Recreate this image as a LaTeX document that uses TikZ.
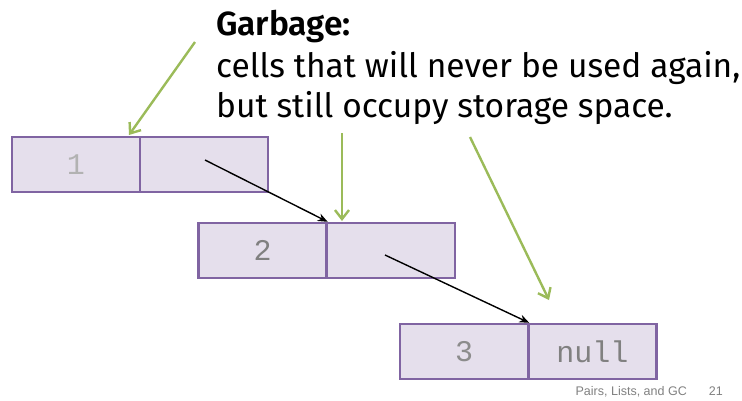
\documentclass[tikz,border=0pt]{standalone}
\usepackage{fontspec}
\setmainfont{Fira Sans}[BoldFont={Fira Sans SemiBold}]
\newfontfamily\monof{Liberation Mono}
\newfontfamily\footf{Liberation Sans}
\usetikzlibrary{arrows.meta}
\definecolor{cellfill}{HTML}{E5DFEC}
\definecolor{cellline}{HTML}{8064A2}
\definecolor{gbgreen}{HTML}{9BBB59}
\tikzset{
  half/.style={draw=cellline, fill=cellfill, line width=2.4pt, minimum width=128pt, minimum height=55pt, inner sep=0pt, font=\monof\fontsize{30}{30}\selectfont},
  ptr/.style={-{Stealth[length=10pt,width=8pt]}, line width=1.4pt, black},
  garb/.style={-{Straight Barb[length=9pt,width=14pt]}, line width=2.4pt, gbgreen},
  txtline/.style={anchor=base west, inner sep=0pt, font=\fontsize{33.5}{41}\selectfont},
  footer/.style={inner sep=0pt, text=black!50, font=\footf\fontsize{12.5}{12.5}\selectfont},
}
\begin{document}
\begin{tikzpicture}[x=1pt,y=-1pt]
\useasboundingbox (0,0) rectangle (742,400);
% cells
\node[half, text=black!30] (c1a) at (76,164.5) {1};
\node[half] (c1b) at (204,164.5) {};
\node[half, text=black!50] (c2a) at (262.5,250.5) {2};
\node[half] (c2b) at (391,250.5) {};
\node[half, text=black!45] (c3a) at (464,351.5) {3};
\node[half, text=black!50] (c3b) at (592.5,351.5) {null};
% pointers
\coordinate (p1) at (205,160);
\coordinate (p2) at (385,255);
\draw[ptr] (p1) -- (c2a.north east);
\draw[ptr] (p2) -- (c3a.north east);
% text
\node[txtline] (t1) at (216,35) {\textbf{Garbage:}};
\node[txtline] (t2) at (216,77) {cells that will never be used again,};
\node[txtline] (t3) at (216,117) {but still occupy storage space.};
% green arrows
\coordinate (g1s) at (195,42);
\coordinate (g1e) at (129,135);
\coordinate (g2s) at (342,133);
\coordinate (g2e) at (342,221);
\coordinate (g3s) at (470,137);
\coordinate (g3e) at (549,300);
\draw[garb] (g1s) -- (g1e);
\draw[garb] (g2s) -- (g2e);
\draw[garb] (g3s) -- (g3e);
% footer
\node[footer, anchor=base east] (foot) at (687,395) {Pairs, Lists, and GC};
\node[footer, anchor=base east] (page) at (723,395) {21};
\end{tikzpicture}
\end{document}
